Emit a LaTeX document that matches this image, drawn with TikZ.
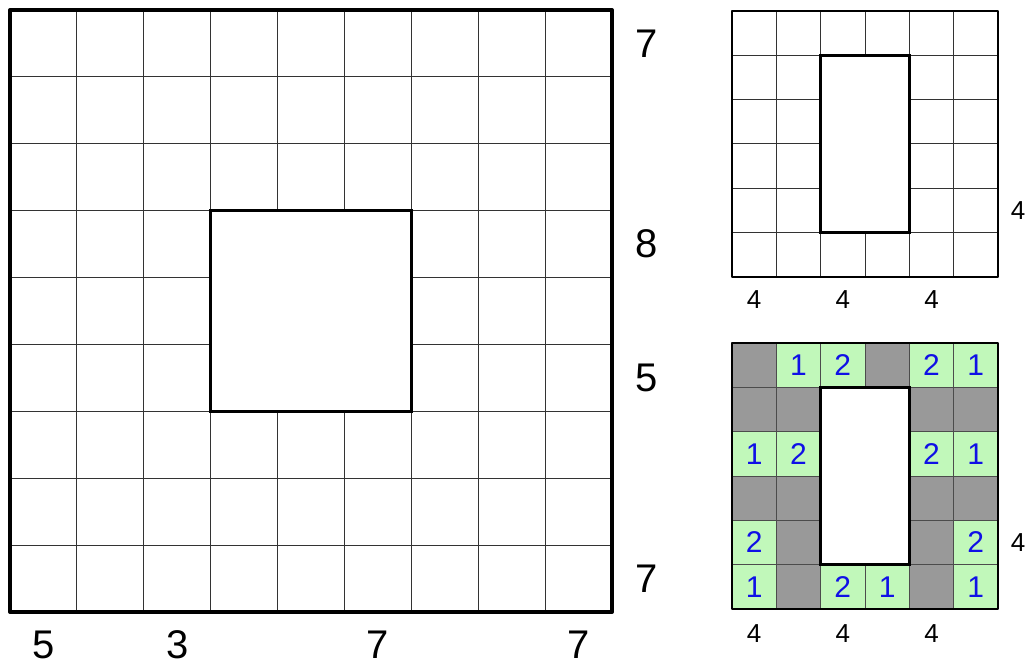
\documentclass[tikz,border=0pt]{standalone}
\usepackage{fontspec}
\setmainfont{Liberation Sans}
\definecolor{cellgreen}{RGB}{193,248,186}
\definecolor{cellgray}{RGB}{153,153,153}
\definecolor{digitblue}{RGB}{16,16,230}
\begin{document}
\begin{tikzpicture}[
  x=1pt,y=-1pt,
  gridline/.style={line width=1pt,black!80},
  bigframe/.style={line width=4pt,line join=round,line cap=round},
  bighole/.style={line width=3.5pt,fill=white},
  smallframe/.style={line width=2.5pt,line join=round},
  smallhole/.style={line width=2.5pt,fill=white},
  biglbl/.style={font=\fontsize{40}{40}\selectfont,inner sep=0pt},
  smalllbl/.style={font=\fontsize{26}{26}\selectfont,inner sep=0pt},
  numlbl/.style={font=\fontsize{30}{30}\selectfont,text=digitblue,inner sep=0pt},
]
\useasboundingbox (0,0) rectangle (1030,666);
\def\bc{66.89}
\def\sc{44.33}

% ===== big 9x9 grid =====
\foreach \i in {1,...,8} {
  \draw[gridline] (10+\i*\bc,10) -- (10+\i*\bc,612);
  \draw[gridline] (10,10+\i*\bc) -- (612,10+\i*\bc);
}
\draw[bighole] (10+3*\bc,10+3*\bc) rectangle (10+6*\bc,10+6*\bc);
\draw[bigframe] (10,10) rectangle (612,612);

\node[biglbl] (r0) at (647,10+0.5*\bc) {7};
\node[biglbl] (r3) at (647,10+3.5*\bc) {8};
\node[biglbl] (r5) at (647,10+5.5*\bc) {5};
\node[biglbl] (r8) at (647,10+8.5*\bc) {7};
\node[biglbl] (c0) at (10+0.5*\bc,645) {5};
\node[biglbl] (c2) at (10+2.5*\bc,645) {3};
\node[biglbl] (c5) at (10+5.5*\bc,645) {7};
\node[biglbl] (c8) at (10+8.5*\bc,645) {7};

% ===== small 6x6 grid, empty =====
\begin{scope}[shift={(732,11)}]
  \foreach \i in {1,...,5} {
    \draw[gridline] (\i*\sc,0) -- (\i*\sc,6*\sc);
    \draw[gridline] (0,\i*\sc) -- (6*\sc,\i*\sc);
  }
  \draw[smallhole] (2*\sc,\sc) rectangle (4*\sc,5*\sc);
  \draw[smallframe] (0,0) rectangle (6*\sc,6*\sc);
  \node[smalllbl] (ar4) at (6*\sc+20,4.5*\sc) {4};
  \foreach \c in {0,2,4}
    \node[smalllbl] (ac\c) at (\c*\sc+0.5*\sc,6*\sc+23) {4};
\end{scope}

% ===== small 6x6 grid, coloured =====
\begin{scope}[shift={(732,343)}]
  \foreach \c/\r in {0/0,3/0,0/1,1/1,4/1,5/1,0/3,1/3,4/3,5/3,1/4,4/4,1/5,4/5}
    \fill[cellgray] (\c*\sc,\r*\sc) rectangle ++(\sc,\sc);
  \foreach \c/\r/\n in {1/0/1,2/0/2,4/0/2,5/0/1,0/2/1,1/2/2,4/2/2,5/2/1,
                        0/4/2,5/4/2,0/5/1,2/5/2,3/5/1,5/5/1} {
    \fill[cellgreen] (\c*\sc,\r*\sc) rectangle ++(\sc,\sc);
    \node[numlbl] (n\c\r) at (\c*\sc+0.5*\sc,\r*\sc+0.5*\sc) {\n};
  }
  \foreach \i in {1,...,5} {
    \draw[gridline,line width=0.8pt,black!70] (\i*\sc,0) -- (\i*\sc,6*\sc);
    \draw[gridline,line width=0.8pt,black!70] (0,\i*\sc) -- (6*\sc,\i*\sc);
  }
  \draw[smallhole] (2*\sc,\sc) rectangle (4*\sc,5*\sc);
  \draw[smallframe] (0,0) rectangle (6*\sc,6*\sc);
  \node[smalllbl] (br4) at (6*\sc+20,4.5*\sc) {4};
  \foreach \c in {0,2,4}
    \node[smalllbl] (bc\c) at (\c*\sc+0.5*\sc,6*\sc+25) {4};
\end{scope}
\end{tikzpicture}
\end{document}
